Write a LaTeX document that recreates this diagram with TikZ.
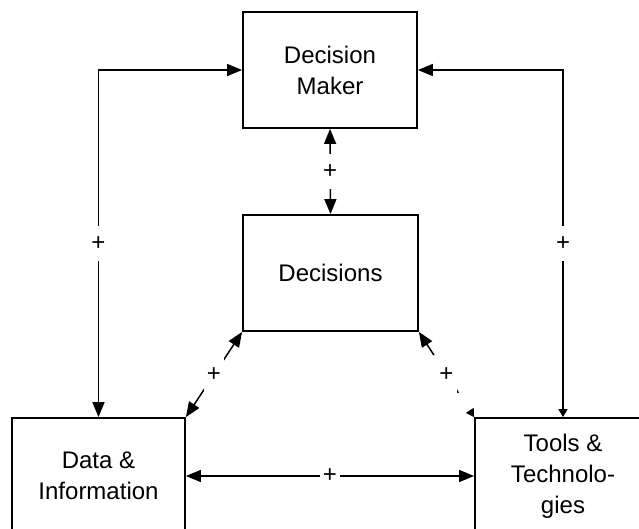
\documentclass[tikz,border=0pt]{standalone}
\usepackage{fontspec}
\setmainfont{Liberation Sans}
\usetikzlibrary{arrows.meta}

\begin{document}
\begin{tikzpicture}[x=1pt,y=-1pt,
    bigtip/.tip={Triangle[length=15pt,width=12pt]},
    tinytip/.tip={Triangle[length=8pt,width=9pt]},
    box/.style={draw,line width=1.8pt,inner sep=0pt,align=center,
      minimum height=116pt,font=\fontsize{24}{31}\selectfont},
    link/.style={line width=1.5pt},
    plus/.style={fill=white,inner xsep=3pt,inner ysep=11pt,
      font=\fontsize{24}{24}\selectfont}]
  \useasboundingbox (0,0) rectangle (639,529);
  % Boxes (the two lower ones run off the page)
  \node[box,minimum width=174pt] (maker) at (330,70) {Decision\\Maker};
  \node[box,minimum width=175pt] (dec) at (330.5,273) {Decisions};
  \node[box,minimum width=173pt] (data) at (98.5,476) {Data \&\\Information};
  \node[box,minimum width=176pt] (tools) at (563,476) {Tools \&\\Technolo-\\gies};
  % Outer loops to the decision maker
  \draw[link,bigtip-bigtip] (maker.west) -| node[plus,pos=0.75] {+} (data.north);
  \draw[link,tinytip-bigtip] (tools.north) |- node[plus,pos=0.25] {+} (maker.east);
  % Decision maker and decisions
  \draw[link,bigtip-bigtip] (maker.south) -- node[plus] {+} (dec.north);
  % Diagonal links
  \draw[link,bigtip-bigtip] (dec.south west) -- node[plus] {+} (data.north east);
  \draw[link,bigtip-tinytip,dash pattern=on 13pt off 37pt on 8pt off 40pt]
    (dec.south east) -- node[plus] {+} (tools.north west);
  % Bottom link
  \draw[link,bigtip-bigtip] (data.east) -- node[plus,inner ysep=3pt] {+} (tools.west);
\end{tikzpicture}
\end{document}
